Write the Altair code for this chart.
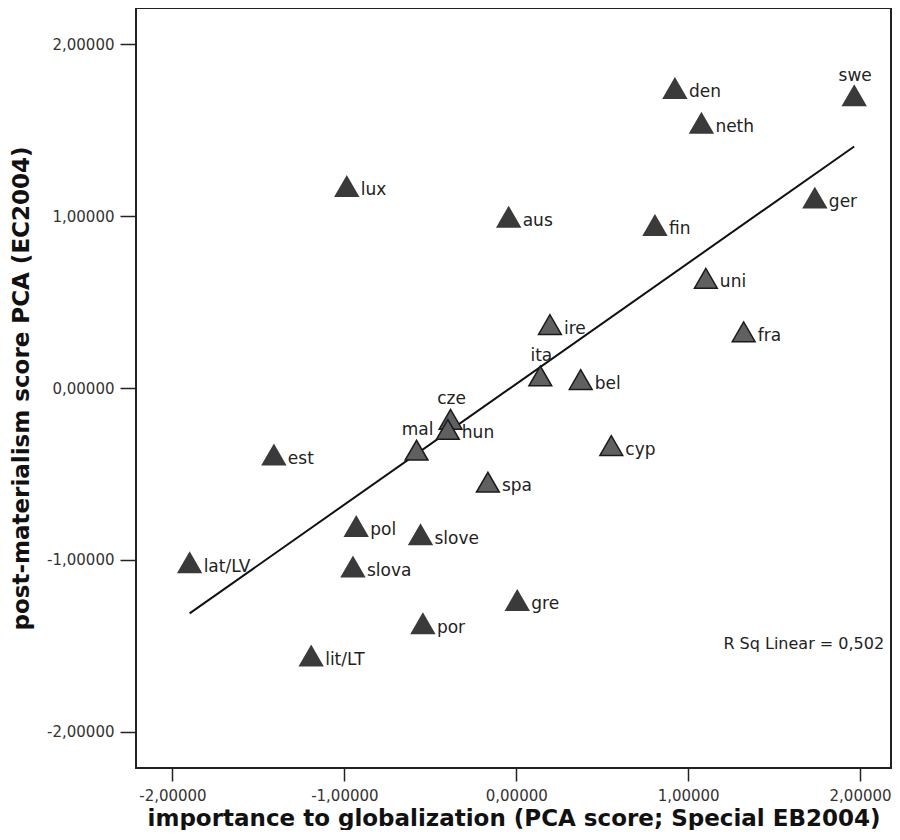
import altair as alt
import pandas as pd

# ---- data ----
countries = ["swe", "den", "neth", "lux", "aus", "fin", "ger", "uni", "ire", "fra",
             "ita", "bel", "cze", "hun", "mal", "est", "spa", "cyp", "pol", "slove",
             "lat/LV", "slova", "gre", "por", "lit/LT"]
globalization = [1.966, 0.923, 1.077, -0.986, -0.044, 0.807, 1.737, 1.103, 0.196, 1.323,
                 0.140, 0.375, -0.382, -0.398, -0.580, -1.410, -0.165, 0.553, -0.931, -0.557,
                 -1.900, -0.950, 0.006, -0.543, -1.193]
postmaterialism = [1.700, 1.743, 1.540, 1.172, 0.994, 0.946, 1.105, 0.638, 0.369, 0.327,
                   0.070, 0.049, -0.182, -0.241, -0.362, -0.389, -0.548, -0.335, -0.805, -0.853,
                   -1.016, -1.041, -1.235, -1.370, -1.558]
shaded = ["uni", "ire", "fra", "ita", "bel", "cze", "hun", "mal", "spa", "cyp"]
labels_above = ["swe", "ita", "cze", "mal"]
ticks = [-2, -1, 0, 1, 2]
r2_text = ["R Sq Linear = 0,502"]
r2_pos_x = [2.14]
r2_pos_y = [-1.49]

df = pd.DataFrame({"country": countries, "glob": globalization, "postmat": postmaterialism})
df["style"] = ["shaded" if c in shaded else "solid" for c in countries]
df["pos"] = ["above" if c in labels_above else "right" for c in countries]

ann = pd.DataFrame({"text": r2_text, "glob": r2_pos_x, "postmat": r2_pos_y})

FONT = "DejaVu Sans"
lbl_expr = "(datum.value < 0 ? '-' : '') + replace(format(abs(datum.value), '.5f'), '.', ',')"

x_enc = alt.X(
    "glob:Q",
    scale=alt.Scale(domain=[-2.212, 2.180], nice=False, zero=False),
    axis=alt.Axis(values=ticks, labelExpr=lbl_expr, tickSize=13, tickWidth=1.5,
                  tickColor="#222", domain=False, grid=False, labelFont=FONT,
                  labelFontSize=15, labelColor="#333", labelPadding=7, labelFlush=False,
                  titleFont=FONT, titleFontSize=23, titleFontWeight="bold",
                  titleColor="#111", titlePadding=4),
    title="importance to globalization (PCA score; Special EB2004)",
)
y_enc = alt.Y(
    "postmat:Q",
    scale=alt.Scale(domain=[-2.21, 2.21], nice=False, zero=False),
    axis=alt.Axis(values=ticks, labelExpr=lbl_expr, tickSize=16, tickWidth=1.5,
                  tickColor="#222", domain=False, grid=False, labelFont=FONT,
                  labelFontSize=15, labelColor="#333", labelPadding=6, labelFlush=False,
                  titleFont=FONT, titleFontSize=23, titleFontWeight="bold",
                  titleColor="#111", titlePadding=13),
    title="post-materialism score PCA (EC2004)",
)

base = alt.Chart(df)

fit = base.transform_regression("glob", "postmat").mark_line(
    color="#111", strokeWidth=2
).encode(x=x_enc, y=y_enc)

points = base.mark_point(shape="triangle-up", size=520, filled=True, opacity=1,
                         strokeWidth=1.5).encode(
    x=x_enc, y=y_enc,
    color=alt.Color("style:N", scale=alt.Scale(domain=["solid", "shaded"],
                                               range=["#3a3a3a", "#606060"]), legend=None),
    stroke=alt.Stroke("style:N", scale=alt.Scale(domain=["solid", "shaded"],
                                                 range=["#3a3a3a", "#1a1a1a"]), legend=None),
)

text_right = base.transform_filter(alt.datum.pos == "right").mark_text(
    align="left", baseline="alphabetic", dx=14, dy=9, font=FONT, fontSize=17, color="#222"
).encode(x=x_enc, y=y_enc, text="country:N")

text_above = base.transform_filter(alt.datum.pos == "above").mark_text(
    align="center", baseline="alphabetic", dx=1, dy=-15, font=FONT, fontSize=17, color="#222"
).encode(x=x_enc, y=y_enc, text="country:N")

r2 = alt.Chart(ann).mark_text(
    align="right", baseline="middle", font=FONT, fontSize=16, color="#222"
).encode(x=x_enc, y=y_enc, text="text:N")

chart = alt.layer(fit, points, text_right, text_above, r2).properties(
    width=755, height=760,
    padding={"left": 2, "top": 0, "right": 0, "bottom": 0},
).configure(background="white").configure_view(stroke="#222", strokeWidth=2)

chart.save("out.html", embed_options={"renderer": "svg", "actions": False})
